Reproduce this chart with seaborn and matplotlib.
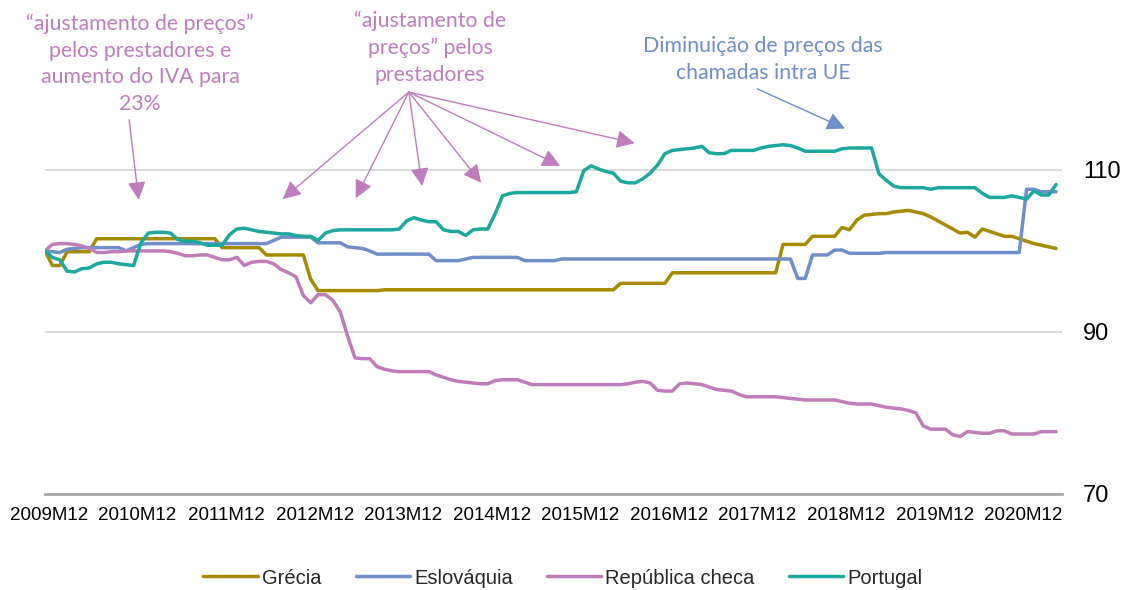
import numpy as np
import pandas as pd
import matplotlib
matplotlib.use("Agg")
import matplotlib.pyplot as plt
import matplotlib.transforms as mtransforms
import seaborn as sns

# ---------------- data (monthly index, 2009M12 = 100) ----------------
tick_labels = ["2009M12", "2010M12", "2011M12", "2012M12", "2013M12", "2014M12",
               "2015M12", "2016M12", "2017M12", "2018M12", "2019M12", "2020M12"]

series_names = ["Grécia", "Eslováquia", "República checa", "Portugal"]

grecia = [
    100.0, 98.2, 98.2, 99.9, 99.9, 99.9, 99.9, 101.5, 101.5, 101.5, 101.5, 101.5,
    101.5, 101.5, 101.5, 101.5, 101.5, 101.5, 101.5, 101.5, 101.5, 101.5, 101.5, 101.5,
    100.4, 100.4, 100.4, 100.4, 100.4, 100.4, 99.5, 99.5, 99.5, 99.5, 99.5, 99.5,
    96.5, 95.1, 95.1, 95.1, 95.1, 95.1, 95.1, 95.1, 95.1, 95.1, 95.2, 95.2,
    95.2, 95.2, 95.2, 95.2, 95.2, 95.2, 95.2, 95.2, 95.2, 95.2, 95.2, 95.2,
    95.2, 95.2, 95.2, 95.2, 95.2, 95.2, 95.2, 95.2, 95.2, 95.2, 95.2, 95.2,
    95.2, 95.2, 95.2, 95.2, 95.2, 95.2, 96.0, 96.0, 96.0, 96.0, 96.0, 96.0,
    96.0, 97.3, 97.3, 97.3, 97.3, 97.3, 97.3, 97.3, 97.3, 97.3, 97.3, 97.3,
    97.3, 97.3, 97.3, 97.3, 100.8, 100.8, 100.8, 100.8, 101.8, 101.8, 101.8, 101.8,
    102.9, 102.6, 103.8, 104.4, 104.5, 104.6, 104.6, 104.8, 104.9, 105.0, 104.8, 104.6,
    104.2, 103.7, 103.2, 102.7, 102.2, 102.3, 101.7, 102.7, 102.4, 102.1, 101.8, 101.8,
    101.5, 101.2, 100.9, 100.7, 100.5, 100.3,
]

eslovaquia = [
    100.0, 99.9, 99.8, 100.2, 100.3, 100.4, 100.4, 100.4, 100.4, 100.4, 100.4, 100.0,
    100.4, 100.8, 100.9, 100.9, 100.9, 100.9, 100.9, 100.9, 100.9, 100.9, 100.9, 100.9,
    100.9, 100.9, 100.9, 100.9, 100.9, 100.9, 100.9, 101.3, 101.7, 101.7, 101.7, 101.7,
    101.7, 101.0, 101.0, 101.0, 101.0, 100.5, 100.4, 100.3, 100.0, 99.6, 99.6, 99.6,
    99.6, 99.6, 99.6, 99.6, 99.6, 98.8, 98.8, 98.8, 98.8, 99.0, 99.2, 99.2,
    99.2, 99.2, 99.2, 99.2, 99.2, 98.8, 98.8, 98.8, 98.8, 98.8, 99.0, 99.0,
    99.0, 99.0, 99.0, 99.0, 99.0, 99.0, 99.0, 99.0, 99.0, 99.0, 99.0, 99.0,
    99.0, 99.0, 99.0, 99.0, 99.0, 99.0, 99.0, 99.0, 99.0, 99.0, 99.0, 99.0,
    99.0, 99.0, 99.0, 99.0, 99.0, 99.0, 96.6, 96.6, 99.5, 99.5, 99.5, 100.1,
    100.1, 99.7, 99.7, 99.7, 99.7, 99.7, 99.8, 99.8, 99.8, 99.8, 99.8, 99.8,
    99.8, 99.8, 99.8, 99.8, 99.8, 99.8, 99.8, 99.8, 99.8, 99.8, 99.8, 99.8,
    99.8, 107.6, 107.6, 107.3, 107.3, 107.3,
]

rep_checa = [
    100.0, 100.8, 100.9, 100.9, 100.8, 100.6, 100.3, 99.8, 99.8, 99.9, 99.9, 100.0,
    100.0, 100.0, 100.0, 100.0, 100.0, 99.9, 99.7, 99.4, 99.4, 99.5, 99.5, 99.2,
    98.9, 98.9, 99.2, 98.2, 98.6, 98.7, 98.7, 98.4, 97.7, 97.3, 96.8, 94.5,
    93.6, 94.6, 94.6, 93.9, 92.5, 89.5, 86.8, 86.7, 86.7, 85.7, 85.4, 85.2,
    85.1, 85.1, 85.1, 85.1, 85.1, 84.7, 84.4, 84.1, 83.9, 83.8, 83.7, 83.6,
    83.6, 84.0, 84.1, 84.1, 84.1, 83.8, 83.5, 83.5, 83.5, 83.5, 83.5, 83.5,
    83.5, 83.5, 83.5, 83.5, 83.5, 83.5, 83.5, 83.6, 83.8, 83.9, 83.7, 82.8,
    82.7, 82.7, 83.6, 83.7, 83.6, 83.5, 83.2, 82.9, 82.8, 82.7, 82.3, 82.0,
    82.0, 82.0, 82.0, 82.0, 81.9, 81.8, 81.7, 81.6, 81.6, 81.6, 81.6, 81.6,
    81.4, 81.2, 81.1, 81.1, 81.1, 80.9, 80.7, 80.6, 80.5, 80.3, 80.0, 78.4,
    78.0, 78.0, 78.0, 77.3, 77.1, 77.7, 77.6, 77.5, 77.5, 77.8, 77.8, 77.4,
    77.4, 77.4, 77.4, 77.7, 77.7, 77.7,
]

portugal = [
    100.0, 99.2, 98.9, 97.5, 97.4, 97.8, 97.9, 98.4, 98.6, 98.6, 98.4, 98.3,
    98.2, 101.0, 102.2, 102.3, 102.3, 102.2, 101.4, 101.2, 101.2, 101.0, 100.7, 100.7,
    100.7, 102.0, 102.7, 102.8, 102.6, 102.4, 102.3, 102.2, 102.1, 102.1, 101.9, 101.8,
    101.8, 101.3, 102.2, 102.5, 102.6, 102.6, 102.6, 102.6, 102.6, 102.6, 102.6, 102.6,
    102.7, 103.7, 104.1, 103.8, 103.6, 103.6, 102.6, 102.4, 102.4, 101.9, 102.6, 102.7,
    102.7, 104.6, 106.8, 107.1, 107.2, 107.2, 107.2, 107.2, 107.2, 107.2, 107.2, 107.2,
    107.3, 109.9, 110.5, 110.1, 109.8, 109.6, 108.6, 108.4, 108.4, 108.9, 109.6, 110.6,
    112.0, 112.4, 112.5, 112.6, 112.7, 112.9, 112.1, 112.0, 112.0, 112.4, 112.4, 112.4,
    112.4, 112.7, 112.9, 113.0, 113.1, 113.0, 112.7, 112.3, 112.3, 112.3, 112.3, 112.3,
    112.6, 112.7, 112.7, 112.7, 112.7, 109.5, 108.7, 108.0, 107.8, 107.8, 107.8, 107.8,
    107.6, 107.8, 107.8, 107.8, 107.8, 107.8, 107.8, 107.1, 106.6, 106.6, 106.6, 106.8,
    106.6, 106.4, 107.4, 106.9, 106.9, 108.2,
]

colors = ["#A68A00", "#6E8FC8", "#C07CBA", "#1BA89E"]
note_pink = "#BF7DBD"
note_blue = "#6F8DC9"

# ---------------- build long table ----------------
frames = []
for name, vals in zip(series_names, [grecia, eslovaquia, rep_checa, portugal]):
    frames.append(pd.DataFrame({"mes": np.arange(len(vals)), "valor": vals, "pais": name}))
df = pd.concat(frames, ignore_index=True)

# ---------------- figure ----------------
sns.set_style("white")
plt.rcParams["font.family"] = ["Liberation Sans", "DejaVu Sans"]

W, H = 1126, 590
fig = plt.figure(figsize=(W / 100, H / 100), dpi=100)
ax = fig.add_axes([45 / W, 96 / H, (1062 - 45) / W, (494 - 24) / H])

sns.lineplot(data=df, x="mes", y="valor", hue="pais", hue_order=series_names,
             palette=colors, linewidth=2.5, ax=ax, legend=True)

n = len(grecia)
ax.set_xlim(0, n - 0.2)
ax.set_ylim(70, 128)
ax.set_xlabel("")
ax.set_ylabel("")

# y axis on right, grid
ax.set_yticks([70, 90, 110])
ax.yaxis.tick_right()
ax.yaxis.grid(True, color="#D9D9D9", linewidth=1.4)
ax.xaxis.grid(False)
ax.tick_params(axis="y", length=0, pad=15, labelsize=17, labelcolor="black")

# x axis
ax.set_xticks(np.arange(0, 12 * len(tick_labels), 12))
ax.set_xticklabels(tick_labels)
ax.tick_params(axis="x", direction="in", length=4, width=1.3, color="#A6A6A6",
               labelsize=13.5, pad=9, labelcolor="black")
shift = mtransforms.ScaledTranslation(4 / 100, 0, fig.dpi_scale_trans)
for lab in ax.get_xticklabels():
    lab.set_transform(lab.get_transform() + shift)

for s in ["left", "top", "right"]:
    ax.spines[s].set_visible(False)
ax.spines["bottom"].set_color("#A6A6A6")
ax.spines["bottom"].set_linewidth(2.0)

# legend
handles, labels = ax.get_legend_handles_labels()
ax.get_legend().remove()
fig.legend(handles, labels, loc="center", bbox_to_anchor=(0.5, 12 / H),
           bbox_transform=fig.transFigure, ncol=4, frameon=False, fontsize=14.5,
           handlelength=2.7, handletextpad=0.2, columnspacing=1.7)

# ---------------- annotations ----------------
note_font = dict(family=["Lato", "DejaVu Sans"], size=15.3, linespacing=1.42,
                 ha="center", va="center")
arrow_kw = dict(arrowstyle="-|>,head_length=1.0,head_width=0.5", mutation_scale=11,
                lw=1.0, shrinkA=0, shrinkB=0)

ax.text(12.9, 123.1, "\u201cajustamento de preços\u201d\npelos prestadores e\naumento do IVA para\n23%",
        color=note_pink, **note_font)
ax.annotate("", xy=(12.7, 106.3), xytext=(11.4, 116.2), annotation_clip=False,
            arrowprops=dict(color=note_pink, **arrow_kw))

ax.text(52.2, 125.1, "\u201cajustamento de\npreços\u201d pelos\nprestadores",
        color=note_pink, **note_font)
for tip in [(32.2, 106.4), (42.1, 106.5), (51.1, 108.0), (59.1, 108.4),
            (69.8, 110.5), (79.9, 113.3)]:
    ax.annotate("", xy=tip, xytext=(49.3, 119.6), annotation_clip=False,
                arrowprops=dict(color=note_pink, **arrow_kw))

ax.text(97.3, 123.6, "Diminuição de preços das\nchamadas intra UE",
        color=note_blue, **note_font)
ax.annotate("", xy=(108.4, 115.1), xytext=(96.5, 120.0), annotation_clip=False,
            arrowprops=dict(color=note_blue, **arrow_kw))

fig.savefig("out.png", dpi=100)
